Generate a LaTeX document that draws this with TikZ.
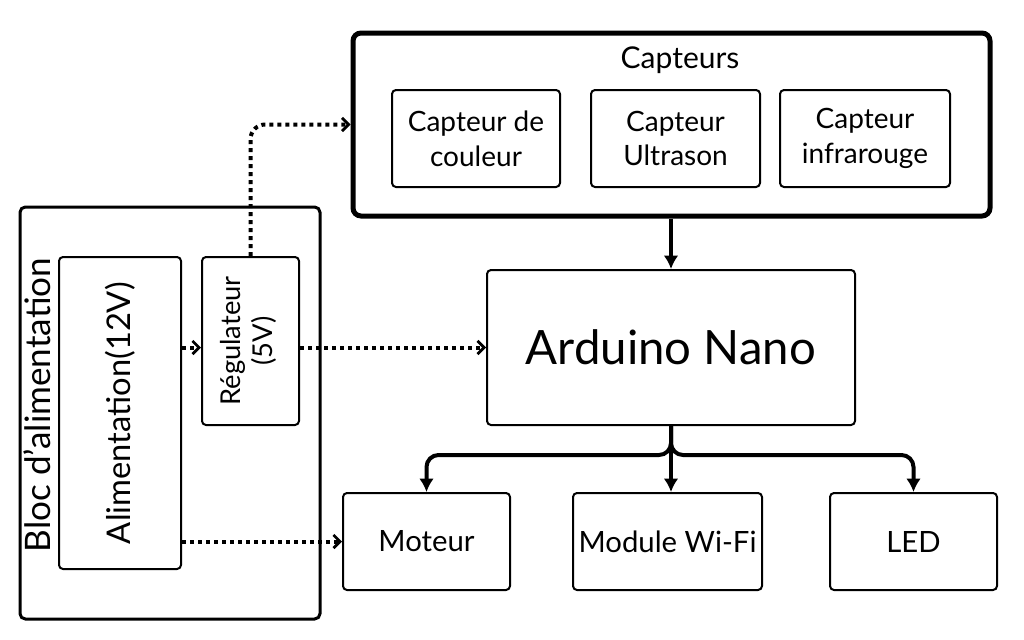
\documentclass[tikz,border=0pt]{standalone}
\usepackage{fontspec}
\setmainfont{Lato}
\usepackage{tikz}
\usetikzlibrary{arrows.meta}
\tikzset{>=latex}
\tikzstyle{block} = [draw, rectangle, rounded corners=3pt, line width=1.5pt,
    align=center, inner sep=0pt]
\tikzstyle{group} = [draw, rectangle, rounded corners=4pt, line width=2.25pt]
\tikzstyle{link} = [line width=3pt, -{Latex[length=10pt,width=11pt]},
    rounded corners=9pt]
\tikzstyle{power} = [line width=3pt, dash pattern=on 3pt off 3pt,
    -{Straight Barb[length=5pt,width=10pt,line width=2pt]}, rounded corners=11pt]

\begin{document}
\begin{tikzpicture}[x=0.75pt, y=-0.75pt]
    \useasboundingbox (0,0) rectangle (1024,639);
    % Power supply group on the left
    \node [group, minimum width=225pt, minimum height=309pt] (bloc) at (170,413) {};
    \node [rotate=90, font=\fontsize{26.3}{31}\selectfont] (bloctitle) at (37,405)
        {Bloc d'alimentation};
    \node [block, minimum width=91.5pt, minimum height=234pt,
        font=\fontsize{24.5}{30}\selectfont] (alim) at (120,413)
        {\rotatebox{90}{Alimentation(12V)}};
    \node [block, minimum width=72.75pt, minimum height=126pt,
        font=\fontsize{20.5}{24}\selectfont] (regul) at (250.5,341)
        {\rotatebox{90}{\begin{tabular}{@{}c@{}}Régulateur\\(5V)\end{tabular}}};

    % Sensors group
    \node [group, line width=3.75pt, rounded corners=6pt,
        minimum width=477.75pt, minimum height=137.25pt] (capteurs) at (671.5,124.5) {};
    \node [font=\fontsize{22.5}{27}\selectfont] (capttitle) at (680,60) {Capteurs};
    \node [block, minimum width=126pt, minimum height=72.75pt,
        font=\fontsize{21}{26}\selectfont] (couleur) at (476,138.5) {Capteur de\\couleur};
    \node [block, minimum width=126.75pt, minimum height=72.75pt,
        font=\fontsize{21}{26}\selectfont] (ultrason) at (675.5,138.5) {Capteur\\Ultrason};
    \node [block, minimum width=127.5pt, minimum height=72.75pt,
        font=\fontsize{21}{26}\selectfont] (infra) at (865,138.5) {Capteur\\infrarouge};

    % Controller and outputs
    \node [block, minimum width=276pt, minimum height=116.25pt,
        font=\fontsize{35.5}{42}\selectfont] (arduino) at (671,347.5) {Arduino Nano};
    \node [block, minimum width=125.25pt, minimum height=72.75pt,
        font=\fontsize{22}{26}\selectfont] (moteur) at (426.5,541.5) {Moteur};
    \node [block, minimum width=141.75pt, minimum height=72.75pt,
        font=\fontsize{22}{26}\selectfont] (wifi) at (667.5,541.5) {Module Wi-Fi};
    \node [block, minimum width=125.25pt, minimum height=72.75pt,
        font=\fontsize{22}{26}\selectfont] (led) at (913.5,541.5) {LED};

    % Data links
    \coordinate (bus) at (671,455);
    \draw [link] (capteurs.south -| arduino.north) -- (arduino.north);
    \draw [link] (arduino.south) |- (bus -| moteur.north) -- (moteur.north);
    \draw [link] (arduino.south) |- (bus -| led.north) -- (led.north);
    \draw [link] (arduino.south) -- (arduino.south |- wifi.north);

    % Power links
    \draw [power] (alim.east |- arduino) -- (regul.west |- arduino);
    \draw [power] (regul.east |- arduino) -- (arduino.west);
    \draw [power] (alim.east |- moteur) -- (moteur.west);
    \draw [power] (regul.north) |- (capteurs.west);
\end{tikzpicture}
\end{document}
